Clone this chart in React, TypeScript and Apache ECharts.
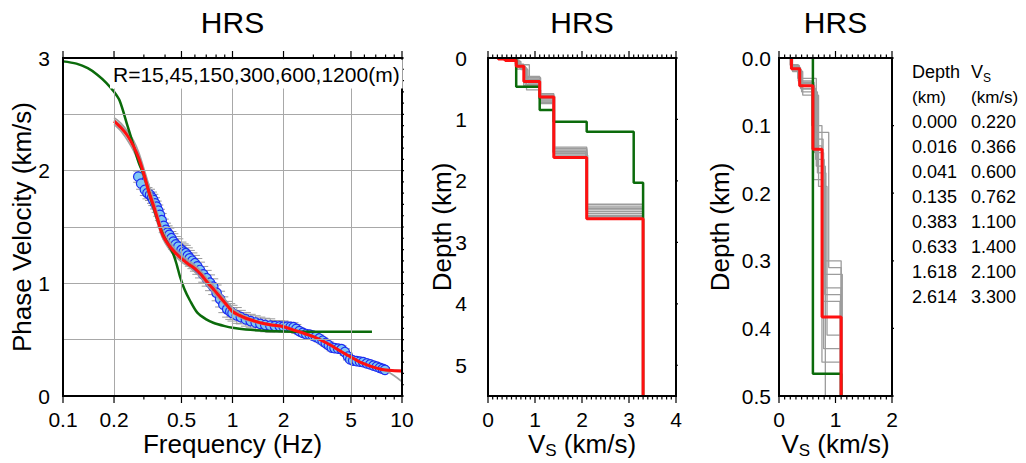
import React, { useEffect, useRef } from "react";
import * as echarts from "echarts";

const FONT = '"Liberation Sans", Arial, Helvetica, sans-serif';

// ---------- Chart 1: dispersion curve ----------
const FREQ_MAJOR_TICKS = [0.1, 0.2, 0.5, 1, 2, 5, 10];
const FREQ_MINOR_TICKS = [0.3, 0.4, 0.6, 0.7, 0.8, 0.9, 3, 4, 6, 7, 8, 9];
const FREQ_GRID = [0.2, 0.5, 1, 2, 5];
const VEL_TICKS = [0, 1, 2, 3];
const VEL_GRID = [0.5, 1, 1.5, 2, 2.5];
const ARRAY_RADII = [15, 45, 150, 300, 600, 1200];

const OBS_FREQ = [
  0.278, 0.289, 0.304, 0.315, 0.326, 0.335, 0.341, 0.349, 0.357, 0.365,
  0.373, 0.382, 0.393, 0.405, 0.414, 0.424, 0.436, 0.448, 0.463, 0.479,
  0.5, 0.515, 0.53, 0.545, 0.56, 0.58, 0.6, 0.62, 0.643, 0.672,
  0.704, 0.737, 0.77, 0.806, 0.845, 0.883, 0.93, 0.97, 1.0, 1.06,
  1.12, 1.2, 1.28, 1.37, 1.46, 1.56, 1.67, 1.78, 1.9, 2.0,
  2.1, 2.2, 2.29, 2.38, 2.48, 2.6, 2.72, 2.85, 2.98, 3.1,
  3.25, 3.4, 3.55, 3.7, 3.85, 4.0, 4.2, 4.4, 4.6, 4.8,
  4.95, 5.15, 5.4, 5.65, 5.9, 6.2, 6.5, 6.8, 7.1, 7.4,
  7.7, 7.94,
];
const OBS_VEL = [
  1.947, 1.885, 1.83, 1.8, 1.785, 1.76, 1.74, 1.71, 1.68, 1.645,
  1.607, 1.56, 1.51, 1.474, 1.45, 1.43, 1.4, 1.37, 1.345, 1.325,
  1.296, 1.28, 1.267, 1.245, 1.222, 1.2, 1.178, 1.15, 1.118, 1.08,
  1.045, 1.005, 0.97, 0.915, 0.86, 0.81, 0.77, 0.75, 0.735, 0.715,
  0.7, 0.68, 0.665, 0.652, 0.64, 0.63, 0.625, 0.62, 0.618, 0.616,
  0.615, 0.613, 0.61, 0.595, 0.575, 0.56, 0.55, 0.545, 0.535, 0.525,
  0.51, 0.49, 0.47, 0.45, 0.43, 0.425, 0.42, 0.415, 0.39, 0.35,
  0.325, 0.315, 0.31, 0.305, 0.3, 0.29, 0.28, 0.27, 0.26, 0.25,
  0.24, 0.232,
];
const OBS_ERR = [
  0.05, 0.05, 0.05, 0.05, 0.05, 0.05, 0.05, 0.05, 0.05, 0.05,
  0.05, 0.06, 0.06, 0.06, 0.06, 0.06, 0.06, 0.07, 0.07, 0.07,
  0.07, 0.07, 0.07, 0.07, 0.07, 0.07, 0.07, 0.07, 0.07, 0.07,
  0.07, 0.07, 0.07, 0.07, 0.07, 0.07, 0.07, 0.07, 0.07, 0.07,
  0.06, 0.06, 0.06, 0.06, 0.06, 0.06, 0.06, 0.05, 0.05, 0.05,
  0.04, 0.04, 0.04, 0.04, 0.03, 0.03, 0.03, 0.03, 0.03, 0.03,
  0.03, 0.03, 0.03, 0.03, 0.03, 0.03, 0.03, 0.03, 0.03, 0.03,
  0.02, 0.02, 0.02, 0.02, 0.02, 0.02, 0.02, 0.02, 0.02, 0.02,
  0.02, 0.02,
];

const FIT_FREQ = [
  0.2, 0.22, 0.24, 0.26, 0.28, 0.3, 0.32, 0.34, 0.36, 0.38,
  0.4, 0.43, 0.46, 0.5, 0.55, 0.6, 0.65, 0.7, 0.75, 0.8,
  0.9, 1.0, 1.1, 1.2, 1.35, 1.5, 1.7, 2.0, 2.3, 2.6,
  3.0, 3.4, 3.8, 4.2, 4.6, 5.0, 5.5, 6.0, 6.5, 7.0,
  7.5, 8.0, 9.0, 10,
];
const FIT_VEL = [
  2.44, 2.38, 2.31, 2.22, 2.11, 1.97, 1.82, 1.7, 1.58, 1.46,
  1.39, 1.32, 1.27, 1.22, 1.17, 1.13, 1.08, 1.02, 0.97, 0.92,
  0.83, 0.75, 0.715, 0.69, 0.665, 0.645, 0.63, 0.615, 0.585, 0.56,
  0.527, 0.49, 0.45, 0.41, 0.375, 0.345, 0.31, 0.285, 0.265, 0.25,
  0.238, 0.23, 0.224, 0.222,
];
const ENS_VEL_A = [
  2.47, 2.42, 2.35, 2.27, 2.16, 2.02, 1.88, 1.75, 1.63, 1.51,
  1.43, 1.36, 1.3, 1.25, 1.2, 1.16, 1.11, 1.05, 1.0, 0.95,
  0.86, 0.78, 0.735, 0.705, 0.675, 0.655, 0.638, 0.622, 0.592, 0.566,
  0.532, 0.495, 0.455, 0.415, 0.38, 0.35, 0.315, 0.29, 0.27, 0.255,
  0.243, 0.235, 0.229, 0.227,
];
const ENS_VEL_B = [
  2.41, 2.35, 2.27, 2.18, 2.07, 1.93, 1.78, 1.66, 1.54, 1.43,
  1.36, 1.29, 1.24, 1.19, 1.15, 1.1, 1.05, 0.99, 0.94, 0.89,
  0.81, 0.735, 0.7, 0.675, 0.655, 0.637, 0.623, 0.608, 0.578, 0.553,
  0.521, 0.485, 0.445, 0.405, 0.37, 0.34, 0.306, 0.281, 0.261, 0.246,
  0.234, 0.226, 0.22, 0.218,
];
const ENS_VEL_C = [
  2.45, 2.4, 2.33, 2.24, 2.13, 1.99, 1.84, 1.72, 1.6, 1.48,
  1.4, 1.33, 1.28, 1.23, 1.18, 1.14, 1.09, 1.03, 0.98, 0.93,
  0.84, 0.76, 0.72, 0.69, 0.663, 0.642, 0.628, 0.612, 0.582, 0.557,
  0.524, 0.487, 0.447, 0.407, 0.372, 0.342, 0.308, 0.283, 0.263, 0.248,
  0.236, 0.226, 0.18, 0.128,
];

const INIT_FREQ = [
  0.1, 0.12, 0.14, 0.16, 0.18, 0.2, 0.216, 0.24, 0.26, 0.28,
  0.3, 0.33, 0.36, 0.39, 0.42, 0.45, 0.47, 0.49, 0.52, 0.56,
  0.62, 0.7, 0.77, 0.9, 1.0, 1.2, 1.6, 2.0, 3.0, 5.0,
  6.65,
];
const INIT_VEL = [
  2.97, 2.95, 2.91, 2.85, 2.78, 2.7, 2.62, 2.4, 2.23, 2.07,
  1.96, 1.75, 1.57, 1.43, 1.34, 1.25, 1.16, 1.06, 0.95, 0.85,
  0.74, 0.68, 0.65, 0.62, 0.605, 0.59, 0.578, 0.573, 0.57, 0.57,
  0.57,
];

// ---------- Chart 2 & 3: velocity models ----------
const LAYER_TOP = [0, 0.016, 0.041, 0.135, 0.383, 0.633, 1.618, 2.614];
const LAYER_VS = [0.22, 0.366, 0.6, 0.762, 1.1, 1.4, 2.1, 3.3];
const INIT_TOP = [0, 0.467, 0.846, 1.036, 1.2, 2.03];
const INIT_VS = [0.6, 1.1, 1.4, 2.1, 3.1, 3.3];
const ENS_TOPS = [
  [0, 0.012, 0.036, 0.12, 0.3, 0.58, 1.45, 2.38],
  [0, 0.014, 0.045, 0.15, 0.32, 0.6, 1.48, 2.41],
  [0, 0.018, 0.05, 0.17, 0.34, 0.62, 1.5, 2.44],
  [0, 0.01, 0.034, 0.1, 0.36, 0.66, 1.53, 2.47],
  [0, 0.02, 0.055, 0.19, 0.41, 0.7, 1.56, 2.5],
  [0, 0.015, 0.04, 0.14, 0.43, 0.72, 1.58, 2.53],
  [0, 0.016, 0.042, 0.13, 0.45, 0.74, 1.6, 2.56],
  [0, 0.013, 0.03, 0.16, 0.52, 0.68, 1.52, 2.58],
  [0, 0.017, 0.046, 0.11, 0.31, 0.64, 1.47, 2.45],
  [0, 0.011, 0.038, 0.18, 0.35, 0.61, 1.55, 2.6],
];
const ENS_VS = [
  [0.21, 0.35, 0.62, 0.78, 1.1, 1.4, 2.1, 3.3],
  [0.22, 0.38, 0.65, 0.8, 1.12, 1.4, 2.1, 3.3],
  [0.23, 0.4, 0.68, 0.83, 1.1, 1.42, 2.1, 3.3],
  [0.2, 0.34, 0.58, 0.76, 1.08, 1.38, 2.08, 3.3],
  [0.24, 0.42, 0.7, 0.85, 1.1, 1.4, 2.1, 3.3],
  [0.22, 0.37, 0.63, 0.79, 1.1, 1.4, 2.12, 3.3],
  [0.22, 0.36, 0.6, 0.76, 1.1, 1.4, 2.1, 3.3],
  [0.21, 0.33, 0.66, 0.82, 1.12, 1.4, 2.1, 3.3],
  [0.23, 0.39, 0.64, 0.88, 1.1, 1.41, 2.1, 3.3],
  [0.2, 0.36, 0.61, 0.81, 1.09, 1.39, 2.11, 3.3],
];
const VS_TICKS_2 = [0, 1, 2, 3, 4];
const DEPTH_TICKS_2 = [0, 1, 2, 3, 4, 5];
const VS_TICKS_3 = [0, 1, 2];
const DEPTH_TICKS_3 = [0, 0.1, 0.2, 0.3, 0.4, 0.5];
const DEPTH_MAX_2 = 5.5;
const DEPTH_MAX_3 = 0.5;

// ---------- layout ----------
const GRID0 = { left: 63, top: 58, width: 339, height: 338 };
const GRID1 = { left: 488, top: 58, width: 188, height: 338 };
const GRID2 = { left: 779, top: 58, width: 113, height: 338 };
const MAJOR_LEN = 7;
const MINOR_LEN = 3.5;

const lg = (f: number) => Math.log10(f);

function minorSteps(min: number, max: number, step: number, majors: number[]) {
  const out: number[] = [];
  const n = Math.round((max - min) / step);
  for (let i = 0; i <= n; i++) {
    const v = +(min + i * step).toFixed(6);
    if (!majors.some((m) => Math.abs(m - v) < step / 10)) out.push(v);
  }
  return out;
}

function stepLine(tops: number[], vs: number[], maxDepth: number) {
  const pts: number[][] = [];
  for (let i = 0; i < vs.length; i++) {
    const z0 = tops[i];
    if (z0 >= maxDepth) break;
    const z1 = Math.min(i + 1 < tops.length ? tops[i + 1] : maxDepth, maxDepth);
    pts.push([vs[i], z0], [vs[i], z1]);
  }
  return pts;
}

type Side = [number[], number[]];
type FrameSpec = {
  idx: number;
  grid: { left: number; top: number; width: number; height: number };
  inverse: boolean;
  xr: [number, number];
  yr: [number, number];
  bottom: Side;
  top: Side;
  left: Side;
  right: Side;
};

function frameSpecs(): FrameSpec[] {
  const fMaj = FREQ_MAJOR_TICKS.map(lg);
  const fMin = FREQ_MINOR_TICKS.map(lg);
  const vMin = minorSteps(0, 3, 0.1, VEL_TICKS);
  const x2Min = minorSteps(0, 4, 0.1, VS_TICKS_2);
  const d2Min = minorSteps(0, DEPTH_MAX_2, 0.1, DEPTH_TICKS_2);
  const x3Min = minorSteps(0, 2, 0.1, VS_TICKS_3);
  const d3Min = minorSteps(0, DEPTH_MAX_3, 0.01, DEPTH_TICKS_3);
  return [
    { idx: 0, grid: GRID0, inverse: false, xr: [-1, 1], yr: [0, 3], bottom: [fMaj, fMin], top: [fMaj, fMin], left: [VEL_TICKS, vMin], right: [VEL_TICKS, vMin] },
    { idx: 1, grid: GRID1, inverse: true, xr: [0, 4], yr: [0, DEPTH_MAX_2], bottom: [VS_TICKS_2, x2Min], top: [VS_TICKS_2, x2Min], left: [DEPTH_TICKS_2, d2Min], right: [DEPTH_TICKS_2, []] },
    { idx: 2, grid: GRID2, inverse: true, xr: [0, 2], yr: [0, DEPTH_MAX_3], bottom: [VS_TICKS_3, x3Min], top: [VS_TICKS_3, x3Min], left: [DEPTH_TICKS_3, d3Min], right: [DEPTH_TICKS_3, []] },
  ];
}

// frame + ticks drawn as ordinary line series (zig-zag along each edge)
function frameLineSeries(f: FrameSpec) {
  const dx = (f.xr[1] - f.xr[0]) / f.grid.width; // data units per pixel
  const dy = (f.yr[1] - f.yr[0]) / f.grid.height;
  const yBottom = f.inverse ? f.yr[1] : f.yr[0];
  const yTop = f.inverse ? f.yr[0] : f.yr[1];
  const downSign = f.inverse ? 1 : -1; // moving down on screen
  const merge = (s: Side) =>
    [...s[0].map((v) => [v, MAJOR_LEN]), ...s[1].map((v) => [v, MINOR_LEN])].sort((a, b) => a[0] - b[0]);
  const pts = {
    bottom: [] as number[][],
    top: [] as number[][],
    left: [] as number[][],
    right: [] as number[][],
  };
  merge(f.bottom).forEach(([v, L]) => pts.bottom.push([v, yBottom], [v, yBottom + downSign * L * dy], [v, yBottom]));
  merge(f.top).forEach(([v, L]) => pts.top.push([v, yTop], [v, yTop - downSign * L * dy], [v, yTop]));
  merge(f.left).forEach(([v, L]) => pts.left.push([f.xr[0], v], [f.xr[0] - L * dx, v], [f.xr[0], v]));
  merge(f.right).forEach(([v, L]) => pts.right.push([f.xr[1], v], [f.xr[1] + L * dx, v], [f.xr[1], v]));
  const base = { type: "line", xAxisIndex: f.idx, yAxisIndex: f.idx, showSymbol: false, clip: false, silent: true, z: 21 };
  const out: any[] = Object.values(pts)
    .filter((p) => p.length)
    .map((p) => ({ ...base, data: p, lineStyle: { color: "#000", width: 1.2, cap: "butt", join: "bevel" } }));
  out.push({
    ...base,
    data: [
      [f.xr[0], f.yr[0]],
      [f.xr[1], f.yr[0]],
      [f.xr[1], f.yr[1]],
      [f.xr[0], f.yr[1]],
      [f.xr[0], f.yr[0]],
    ],
    lineStyle: { color: "#000", width: 2, cap: "square", join: "miter" },
  });
  return out;
}

function labelAxis(
  gridIndex: number,
  position: string,
  min: number,
  max: number,
  inverse: boolean,
  values: number[],
  margin: number,
  formatter?: any
) {
  const ax: any = {
    gridIndex,
    type: "value",
    position,
    min,
    max,
    splitLine: { show: false },
    axisLine: { show: false, onZero: false },
    axisTick: { show: false, customValues: values.slice() },
    axisLabel: { show: true, color: "#000", fontSize: 21, fontFamily: FONT, margin, customValues: values.slice() },
  };
  if (formatter) ax.axisLabel.formatter = formatter;
  if (inverse) ax.inverse = true;
  return ax;
}

function textGraphics() {
  const txt = (x: number, y: number, text: string, fontSize: number, extra: any = {}) => ({
    type: "text",
    x,
    y,
    z: 60,
    silent: true,
    ...extra,
    style: {
      text,
      fill: "#000",
      fontSize,
      fontFamily: FONT,
      align: "center",
      verticalAlign: "middle",
      ...(extra.style || {}),
    },
  });
  const vsRich = (size: number, sub: number, lh: number) => ({
    v: { fontSize: size, fontFamily: FONT, lineHeight: lh, fill: "#000", color: "#000" },
    s: { fontSize: sub, fontFamily: FONT, lineHeight: sub, verticalAlign: "bottom", fill: "#000", color: "#000" },
  });
  const g: any[] = [
    txt(232.5, 22, "HRS", 30),
    txt(582, 22, "HRS", 30),
    txt(835.5, 22, "HRS", 30),
    txt(22, 227, "Phase Velocity (km/s)", 26, { rotation: Math.PI / 2, style: { lineHeight: 26 } }),
    txt(442, 227, "Depth (km)", 26, { rotation: Math.PI / 2, style: { lineHeight: 26 } }),
    txt(720, 227, "Depth (km)", 26, { rotation: Math.PI / 2, style: { lineHeight: 26 } }),
    txt(232.5, 444, "Frequency (Hz)", 26, { style: { lineHeight: 26 } }),
    txt(582, 444, "", 26, { style: { text: "{v|V}{s|S}{v| (km/s)}", rich: vsRich(26, 17, 30) } }),
    txt(835.5, 444, "", 26, { style: { text: "{v|V}{s|S}{v| (km/s)}", rich: vsRich(26, 17, 30) } }),
    {
      type: "text",
      x: 110,
      y: 74,
      z: 50,
      silent: true,
      style: {
        text: `R=${ARRAY_RADII.join(",")}(m)`,
        fill: "#000",
        fontSize: 21,
        fontFamily: FONT,
        align: "left",
        verticalAlign: "middle",
        backgroundColor: "#fff",
        padding: [4, 3, 4, 3],
      },
    },
    txt(912, 72, "Depth", 18, { style: { align: "left" } }),
    txt(971, 72, "", 18, { style: { align: "left", text: "{v|V}{s|S}", rich: vsRich(18, 12, 24) } }),
    txt(912, 97, "(km)", 17, { style: { align: "left" } }),
    txt(971, 97, "(km/s)", 17, { style: { align: "left" } }),
  ];
  LAYER_TOP.forEach((d, i) => {
    const y = 121.7 + 25 * i;
    g.push(txt(912, y, d.toFixed(3), 18, { style: { align: "left" } }));
    g.push(txt(971, y, LAYER_VS[i].toFixed(3), 18, { style: { align: "left" } }));
  });
  return g;
}

function buildOption() {
  const freqFmt = (v: number) => {
    const f = FREQ_MAJOR_TICKS.find((t) => Math.abs(lg(t) - v) < 1e-6);
    return f === undefined ? "" : String(f);
  };

  const xAxis: any[] = [
    labelAxis(0, "bottom", -1, 1, false, FREQ_MAJOR_TICKS.map(lg), 13, freqFmt),
    labelAxis(1, "bottom", 0, 4, false, VS_TICKS_2, 13),
    labelAxis(2, "bottom", 0, 2, false, VS_TICKS_3, 13),
  ];
  const yAxis: any[] = [
    labelAxis(0, "left", 0, 3, false, VEL_TICKS, 13),
    labelAxis(1, "left", 0, DEPTH_MAX_2, true, DEPTH_TICKS_2, 21),
    labelAxis(2, "left", 0, DEPTH_MAX_3, true, DEPTH_TICKS_3, 8, (v: number) => v.toFixed(1)),
  ];

  const c1 = { xAxisIndex: 0, yAxisIndex: 0 };
  const curve = (freq: number[], vel: number[]) => freq.map((f, i) => [lg(f), vel[i]]);

  const series: any[] = [];
  series.push({
    type: "line",
    ...c1,
    z: 1,
    clip: false,
    data: [[-1, 0]],
    showSymbol: false,
    silent: true,
    lineStyle: { opacity: 0 },
    markLine: {
      silent: true,
      symbol: ["none", "none"],
      label: { show: false },
      lineStyle: { color: "#a8a8a8", width: 1, type: "solid" },
      data: [...FREQ_GRID.map((f) => ({ xAxis: lg(f) })), ...VEL_GRID.map((v) => ({ yAxis: v }))],
    },
  });
  [ENS_VEL_A, ENS_VEL_B, ENS_VEL_C].forEach((vel) => {
    series.push({
      type: "line",
      ...c1,
      clip: false,
      data: curve(FIT_FREQ, vel),
      showSymbol: false,
      smooth: 0.3,
      lineStyle: { color: "#a0a0a0", width: 1.6 },
      silent: true,
    });
  });
  series.push({
    type: "custom",
    ...c1,
    clip: false,
    silent: true,
    encode: { x: 0, y: 1 },
    data: OBS_FREQ.map((f, i) => [lg(f), OBS_VEL[i], OBS_ERR[i]]),
    renderItem: (params: any, api: any) => {
      const x = api.value(0);
      const v = api.value(1);
      const e = api.value(2);
      const p1 = api.coord([x, v + e]);
      const p2 = api.coord([x, v - e]);
      const hw = 5;
      const st = { stroke: "#9a9a9a", lineWidth: 1 };
      return {
        type: "group",
        children: [
          { type: "line", shape: { x1: p1[0], y1: p1[1], x2: p2[0], y2: p2[1] }, style: { ...st } },
          { type: "line", shape: { x1: p1[0] - hw, y1: p1[1], x2: p1[0] + hw, y2: p1[1] }, style: { ...st } },
          { type: "line", shape: { x1: p2[0] - hw, y1: p2[1], x2: p2[0] + hw, y2: p2[1] }, style: { ...st } },
        ],
      };
    },
  });
  series.push({
    type: "line",
    ...c1,
    clip: false,
    data: curve(INIT_FREQ, INIT_VEL),
    showSymbol: false,
    smooth: 0.3,
    lineStyle: { color: "#0b6b0b", width: 2.5 },
    silent: true,
  });
  series.push({
    type: "scatter",
    ...c1,
    clip: false,
    data: curve(OBS_FREQ, OBS_VEL),
    symbol: "circle",
    symbolSize: 9.5,
    itemStyle: { color: "#80c8f4", borderColor: "#1e2cf0", borderWidth: 1.2, opacity: 1 },
    silent: true,
  });
  series.push({
    type: "line",
    ...c1,
    clip: false,
    data: curve(FIT_FREQ, FIT_VEL),
    showSymbol: false,
    smooth: 0.3,
    lineStyle: { color: "#ff1010", width: 3 },
    silent: true,
  });

  [
    { c: { xAxisIndex: 1, yAxisIndex: 1 }, maxD: DEPTH_MAX_2 },
    { c: { xAxisIndex: 2, yAxisIndex: 2 }, maxD: DEPTH_MAX_3 },
  ].forEach(({ c, maxD }) => {
    ENS_TOPS.forEach((tops, k) => {
      series.push({
        type: "line",
        ...c,
        clip: false,
        data: stepLine(tops, ENS_VS[k], maxD),
        showSymbol: false,
        lineStyle: { color: "#9c9c9c", width: 1.3 },
        silent: true,
      });
    });
    series.push({
      type: "line",
      ...c,
      clip: false,
      data: stepLine(INIT_TOP, INIT_VS, maxD),
      showSymbol: false,
      lineStyle: { color: "#0b6b0b", width: 2.5 },
      silent: true,
    });
    series.push({
      type: "line",
      ...c,
      clip: false,
      data: stepLine(LAYER_TOP, LAYER_VS, maxD),
      showSymbol: false,
      lineStyle: { color: "#ff1010", width: 3 },
      silent: true,
    });
  });

  frameSpecs().forEach((f) => frameLineSeries(f).forEach((s) => series.push(s)));

  return {
    animation: false,
    backgroundColor: "#fff",
    grid: [{ ...GRID0 }, { ...GRID1 }, { ...GRID2 }],
    xAxis,
    yAxis,
    series,
    graphic: textGraphics(),
  };
}

export default function App() {
  const ref = useRef<HTMLDivElement>(null);
  useEffect(() => {
    const el = ref.current;
    if (!el) return;
    const chart = echarts.init(el, null, { renderer: "svg" });
    chart.setOption(buildOption() as any);
    return () => chart.dispose();
  }, []);
  return (
    <div
      ref={ref}
      style={{ position: "fixed", left: 0, top: 0, width: 1026, height: 463, background: "#fff" }}
    />
  );
}
